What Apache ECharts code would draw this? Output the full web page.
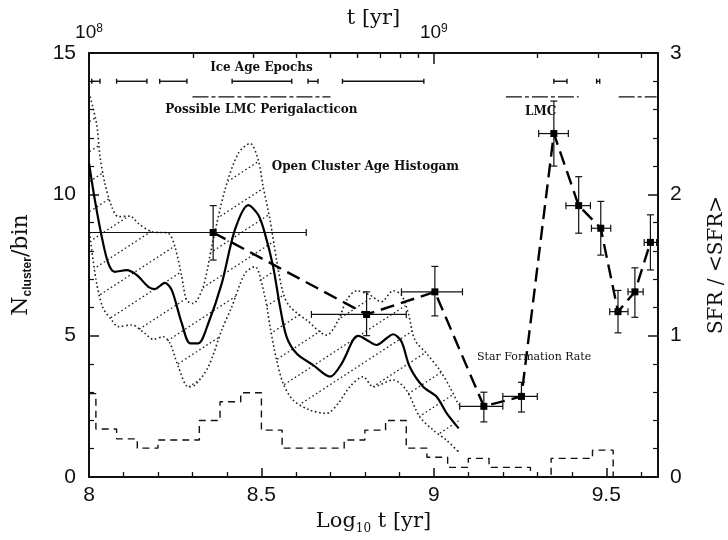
<!DOCTYPE html>
<html>
<head>
<meta charset="utf-8">
<script src="https://cdn.jsdelivr.net/npm/echarts@6/dist/echarts.min.js"></script>
<style>
  html, body { margin: 0; padding: 0; background: #fff; }
  #chart { width: 728px; height: 540px; }
</style>
</head>
<body>
<div id="chart"></div>
<script>
// ---- Open cluster age distribution (left axis, N_cluster / bin) ----
// smoothed histogram
const smoothX = [8.000, 8.017, 8.037, 8.056, 8.075, 8.109, 8.138, 8.172, 8.191, 8.220, 8.240, 8.269, 8.293, 8.317, 8.346, 8.385, 8.423, 8.462, 8.491, 8.510, 8.534, 8.554, 8.573, 8.602, 8.650, 8.699, 8.733, 8.766, 8.781, 8.805, 8.834, 8.863, 8.882, 8.906, 8.930, 8.969, 9.008, 9.037, 9.072];
const smoothY = [11.1, 9.8, 8.5, 7.56, 7.26, 7.32, 7.15, 6.73, 6.65, 6.87, 6.61, 5.44, 4.73, 4.73, 5.44, 6.85, 8.74, 9.62, 9.27, 8.62, 7.44, 6.02, 4.96, 4.37, 3.96, 3.55, 4.02, 4.85, 4.99, 4.85, 4.67, 4.91, 5.05, 4.79, 3.90, 3.19, 2.84, 2.26, 1.72];
// upper envelope
const upperX = [8.000, 8.022, 8.032, 8.046, 8.066, 8.085, 8.119, 8.143, 8.182, 8.230, 8.249, 8.269, 8.283, 8.302, 8.331, 8.356, 8.394, 8.433, 8.467, 8.491, 8.505, 8.525, 8.544, 8.563, 8.583, 8.631, 8.689, 8.723, 8.747, 8.776, 8.814, 8.848, 8.882, 8.906, 8.926, 8.945, 8.979, 9.017, 9.046, 9.072];
const upperY = [13.6, 12.5, 11.33, 10.39, 9.56, 9.21, 9.23, 8.97, 8.68, 8.62, 8.15, 7.09, 6.26, 6.14, 6.73, 8.15, 10.15, 11.45, 11.80, 11.21, 10.27, 9.09, 7.68, 6.50, 6.02, 5.55, 5.02, 5.55, 6.26, 6.59, 6.44, 6.20, 6.59, 6.44, 5.79, 4.85, 4.37, 3.78, 3.19, 2.55];
// lower envelope
const lowerX = [8.000, 8.020, 8.040, 8.066, 8.085, 8.124, 8.162, 8.186, 8.215, 8.235, 8.259, 8.288, 8.307, 8.346, 8.385, 8.414, 8.452, 8.481, 8.510, 8.525, 8.544, 8.563, 8.592, 8.640, 8.689, 8.723, 8.756, 8.795, 8.824, 8.882, 8.920, 8.959, 8.998, 9.036, 9.072];
const lowerY = [8.8, 7.0, 6.0, 5.55, 5.32, 5.38, 5.08, 4.87, 4.96, 4.73, 3.90, 3.19, 3.25, 3.90, 5.20, 6.02, 7.20, 7.44, 6.38, 5.32, 4.14, 3.31, 2.72, 2.37, 2.25, 2.61, 3.19, 3.55, 3.19, 3.43, 3.08, 2.13, 1.66, 1.31, 0.88];

// binned histogram (bin left edges, counts); last edge closes the final bin
const histEdges = [8.00, 8.02, 8.08, 8.14, 8.20, 8.32, 8.38, 8.44, 8.50, 8.56, 8.74, 8.80, 8.86, 8.92, 8.98, 9.04, 9.10, 9.16, 9.28, 9.34, 9.46, 9.52];
const histCounts = [2.95, 1.70, 1.35, 1.02, 1.31, 2.00, 2.66, 2.98, 1.66, 1.02, 1.31, 1.66, 2.00, 1.02, 0.70, 0.34, 0.66, 0.34, 0.00, 0.66, 0.95, 0.00];

// ---- Star formation rate (right axis, SFR / <SFR>) ----
const sfrX  = [8.360, 8.805, 9.003, 9.145, 9.254, 9.348, 9.420, 9.484, 9.534, 9.583, 9.628];
const sfrY  = [1.73, 1.15, 1.31, 0.50, 0.57, 2.43, 1.92, 1.76, 1.17, 1.31, 1.66];
const sfrXlo = [8.000, 8.645, 8.906, 9.075, 9.200, 9.304, 9.383, 9.457, 9.510, 9.563, 9.610];
const sfrXhi = [8.630, 8.920, 9.083, 9.200, 9.300, 9.390, 9.454, 9.513, 9.563, 9.607, 9.646];
const sfrYlo = [1.535, 1.00, 1.14, 0.39, 0.46, 2.20, 1.725, 1.57, 1.02, 1.13, 1.465];
const sfrYhi = [1.92, 1.31, 1.49, 0.60, 0.67, 2.66, 2.125, 1.95, 1.32, 1.48, 1.855];

// ---- Epoch bars along the top ----
const iceStart = [8.008, 8.080, 8.205, 8.415, 8.635, 8.735, 9.348, 9.472];
const iceEnd   = [8.032, 8.168, 8.284, 8.588, 8.664, 8.971, 9.386, 9.481];
const periStart = [8.300, 9.209, 9.536];
const periEnd   = [8.700, 9.420, 9.646];

// ---- Axis ticks ----
const xRange = [8, 9.65];
const xTickLabels = [8, 8.5, 9, 9.5];
const xMinorTicks = [8.1, 8.2, 8.3, 8.4, 8.6, 8.7, 8.8, 8.9, 9.1, 9.2, 9.3, 9.4, 9.6];
const ageMajorTicks = [8, 9];              // log10 of 1e8, 1e9 yr
const ageMinorTicks = [8.30103, 8.47712, 8.60206, 8.69897, 8.77815, 8.84510, 8.90309, 8.95424,
                       9.30103, 9.47712, 9.60206];
const leftRange = [0, 15];
const rightRange = [0, 3];

// levels (left-axis units) of the epoch bars and of the annotations
const ICE_LEVEL = 14.0;
const PERI_LEVEL = 13.45;
const annotations = [
  { text: 'Ice Age Epochs', x: 8.50, y: 14.47, align: 'center' },
  { text: 'Possible LMC Perigalacticon', x: 8.50, y: 12.98, align: 'center' },
  { text: 'LMC', x: 9.31, y: 12.91, align: 'center' },
  { text: 'Open Cluster Age Histogam', x: 8.53, y: 10.97, align: 'left' },
  { text: 'Star Formation Rate', x: 9.125, y: 4.24, align: 'left', plain: true }
];

const zip = (xs, ys) => xs.map((x, i) => [x, ys[i]]);

// dotted diagonal hatch tile used to fill the envelope band
function hatchTile() {
  const w = 46, h = 30;
  const c = document.createElement('canvas');
  c.width = w; c.height = h;
  const g = c.getContext('2d');
  g.strokeStyle = '#222';
  g.lineWidth = 1.3;
  g.setLineDash([1.6, 2.6]);
  g.beginPath();
  g.moveTo(-w * 0.05, h * 1.05);
  g.lineTo(w * 1.05, -h * 0.05);
  g.stroke();
  return c;
}
const hatch = { image: hatchTile(), repeat: 'repeat' };

const INK = '#111';
const tickFont = { fontFamily: 'Liberation Sans', fontSize: 21, color: INK };
const nameFont = { fontFamily: 'DejaVu Serif', fontSize: 21, color: INK };
const noteFontBold = 'bold 12px "DejaVu Serif"';
const noteFontPlain = '11px "DejaVu Serif"';

const chart = echarts.init(document.getElementById('chart'), null, { renderer: 'canvas' });

const axisLine = { show: true, lineStyle: { color: INK, width: 2 } };

chart.setOption({
  animation: false,
  backgroundColor: '#fff',
  grid: { left: 89, right: 70, top: 53, bottom: 63, containLabel: false, outerBoundsMode: 'none' },
  xAxis: [
    { // bottom: log10 age
      type: 'value', position: 'bottom', min: xRange[0], max: xRange[1], interval: 0.5,
      axisLine,
      axisTick: { inside: true, length: 9, customValues: xTickLabels, lineStyle: { color: INK, width: 1.5 } },
      axisLabel: Object.assign({ customValues: xTickLabels, margin: 8, formatter: v => String(v) }, tickFont),
      splitLine: { show: false },
      name: 'Log{sub|10} t [yr]', nameLocation: 'middle', nameGap: 32, nameMoveOverlap: false,
      nameTextStyle: Object.assign({}, nameFont, {
        lineHeight: 26,
        rich: { sub: { fontFamily: 'DejaVu Serif', fontSize: 12, lineHeight: 12, verticalAlign: 'bottom', color: INK } }
      })
    },
    { // bottom minor ticks
      type: 'value', position: 'bottom', min: xRange[0], max: xRange[1],
      axisLine: { show: false },
      axisTick: { inside: true, length: 5, customValues: xMinorTicks, lineStyle: { color: INK, width: 1.3 } },
      axisLabel: { show: false }, splitLine: { show: false }
    },
    { // top: age in yr, minor log ticks
      type: 'value', position: 'top', min: xRange[0], max: xRange[1],
      axisLine,
      axisTick: { inside: true, length: 5, customValues: ageMinorTicks, lineStyle: { color: INK, width: 1.3 } },
      axisLabel: { show: false }, splitLine: { show: false }
    },
    { // top: decade ticks and labels
      type: 'value', position: 'top', min: xRange[0], max: xRange[1],
      axisLine: { show: false },
      axisTick: { inside: true, length: 11, customValues: ageMajorTicks, lineStyle: { color: INK, width: 1.5 } },
      axisLabel: Object.assign({
        customValues: ageMajorTicks, margin: 10,
        formatter: v => '10{e|' + v + '}',
        rich: { e: { fontFamily: 'Liberation Sans', fontSize: 12, verticalAlign: 'top', lineHeight: 10, color: INK } }
      }, tickFont, { fontSize: 19, lineHeight: 20 }),
      splitLine: { show: false },
      name: 't [yr]', nameLocation: 'middle', nameGap: 24, nameMoveOverlap: false,
      nameTextStyle: Object.assign({}, nameFont, { fontSize: 21 })
    }
  ],
  yAxis: [
    {
      type: 'value', position: 'left', min: leftRange[0], max: leftRange[1], interval: 5,
      axisLine,
      axisTick: { inside: true, length: 10, lineStyle: { color: INK, width: 1.5 } },
      minorTick: { show: true, splitNumber: 5, length: 5, lineStyle: { color: INK, width: 1.2 } },
      axisLabel: Object.assign({ margin: 13 }, tickFont),
      splitLine: { show: false }, minorSplitLine: { show: false },
      name: 'N{sub|cluster}/bin', nameLocation: 'middle', nameGap: 55, nameRotate: 90, nameMoveOverlap: false,
      nameTextStyle: Object.assign({}, nameFont, {
        fontSize: 22, lineHeight: 26,
        rich: { sub: { fontFamily: 'Liberation Sans', fontWeight: 'bold', fontSize: 12, lineHeight: 12, verticalAlign: 'bottom', color: INK } }
      })
    },
    {
      type: 'value', position: 'right', min: rightRange[0], max: rightRange[1], interval: 1,
      axisLine,
      axisTick: { inside: true, length: 10, lineStyle: { color: INK, width: 1.5 } },
      minorTick: { show: true, splitNumber: 5, length: 5, lineStyle: { color: INK, width: 1.2 } },
      axisLabel: Object.assign({ margin: 12 }, tickFont),
      splitLine: { show: false }, minorSplitLine: { show: false },
      name: 'SFR / <SFR>', nameLocation: 'middle', nameGap: 49, nameRotate: 90, nameMoveOverlap: false,
      nameTextStyle: Object.assign({}, nameFont, { fontSize: 20 })
    }
  ],
  series: [
    { // hatched band between the envelopes
      type: 'custom', xAxisIndex: 0, yAxisIndex: 0, silent: true, z: 1,
      data: [[upperX[0], upperY[0]]],
      renderItem: (params, api) => {
        const pts = [];
        upperX.forEach((x, i) => pts.push(api.coord([x, upperY[i]])));
        for (let i = lowerX.length - 1; i >= 0; i--) pts.push(api.coord([lowerX[i], lowerY[i]]));
        return { type: 'polygon', shape: { points: pts }, style: { fill: hatch, stroke: null } };
      }
    },
    {
      type: 'line', xAxisIndex: 0, yAxisIndex: 0, data: zip(upperX, upperY), smooth: 0.3,
      symbol: 'none', silent: true, z: 2,
      lineStyle: { color: '#222', width: 1.6, type: [1.6, 2.6] }
    },
    {
      type: 'line', xAxisIndex: 0, yAxisIndex: 0, data: zip(lowerX, lowerY), smooth: 0.3,
      symbol: 'none', silent: true, z: 2,
      lineStyle: { color: '#222', width: 1.6, type: [1.6, 2.6] }
    },
    {
      type: 'line', xAxisIndex: 0, yAxisIndex: 0, data: zip(smoothX, smoothY), smooth: 0.3,
      symbol: 'none', silent: true, z: 3,
      lineStyle: { color: '#000', width: 2.2 }
    },
    { // binned histogram
      type: 'line', xAxisIndex: 0, yAxisIndex: 0, step: 'end',
      data: zip(histEdges, histCounts).concat([[xRange[1], 0]]),
      symbol: 'none', silent: true, z: 2,
      lineStyle: { color: '#111', width: 1.4, type: [7, 5] }
    },
    { // star formation rate
      type: 'line', xAxisIndex: 0, yAxisIndex: 1, data: zip(sfrX, sfrY),
      symbol: 'none', silent: true, z: 4,
      lineStyle: { color: '#000', width: 2.4, type: [14, 7] }
    },
    { // SFR error bars and markers
      type: 'custom', xAxisIndex: 0, yAxisIndex: 1, silent: true, z: 5,
      encode: { x: [0, 2, 3], y: [1, 4, 5] },
      data: sfrX.map((x, i) => [x, sfrY[i], sfrXlo[i], sfrXhi[i], sfrYlo[i], sfrYhi[i]]),
      renderItem: (params, api) => {
        const c = api.coord([api.value(0), api.value(1)]);
        const l = api.coord([api.value(2), api.value(1)]);
        const r = api.coord([api.value(3), api.value(1)]);
        const b = api.coord([api.value(0), api.value(4)]);
        const t = api.coord([api.value(0), api.value(5)]);
        const cap = 3.5;
        const st = { stroke: '#111', lineWidth: 1.2 };
        const seg = (x1, y1, x2, y2) => ({ type: 'line', shape: { x1, y1, x2, y2 }, style: st });
        return {
          type: 'group',
          children: [
            seg(l[0], l[1], r[0], r[1]),
            seg(l[0], l[1] - cap, l[0], l[1] + cap),
            seg(r[0], r[1] - cap, r[0], r[1] + cap),
            seg(b[0], b[1], t[0], t[1]),
            seg(b[0] - cap, b[1], b[0] + cap, b[1]),
            seg(t[0] - cap, t[1], t[0] + cap, t[1]),
            { type: 'rect', shape: { x: c[0] - 3.5, y: c[1] - 3.5, width: 7, height: 7 }, style: { fill: '#000' } }
          ]
        };
      }
    },
    { // ice age epochs
      type: 'custom', xAxisIndex: 0, yAxisIndex: 0, silent: true, z: 5,
      data: iceStart.map((s, i) => [s, iceEnd[i]]),
      renderItem: (params, api) => {
        const a = api.coord([api.value(0), ICE_LEVEL]);
        const b = api.coord([api.value(1), ICE_LEVEL]);
        const st = { stroke: '#111', lineWidth: 1.4 };
        return {
          type: 'group',
          children: [
            { type: 'line', shape: { x1: a[0], y1: a[1], x2: b[0], y2: b[1] }, style: st },
            { type: 'line', shape: { x1: a[0], y1: a[1] - 2.5, x2: a[0], y2: a[1] + 2.5 }, style: st },
            { type: 'line', shape: { x1: b[0], y1: b[1] - 2.5, x2: b[0], y2: b[1] + 2.5 }, style: st }
          ]
        };
      }
    },
    { // possible LMC perigalacticon passages
      type: 'custom', xAxisIndex: 0, yAxisIndex: 0, silent: true, z: 5,
      data: periStart.map((s, i) => [s, periEnd[i]]),
      renderItem: (params, api) => {
        const a = api.coord([api.value(0), PERI_LEVEL]);
        const b = api.coord([api.value(1), PERI_LEVEL]);
        return {
          type: 'line', shape: { x1: a[0], y1: a[1], x2: b[0], y2: b[1] },
          style: { stroke: '#111', lineWidth: 1.3, lineDash: [16, 3, 4, 3] }
        };
      }
    },
    { // annotations
      type: 'custom', xAxisIndex: 0, yAxisIndex: 0, silent: true, z: 6,
      data: annotations.map(a => [a.x, a.y]),
      renderItem: (params, api) => {
        const a = annotations[params.dataIndex];
        const p = api.coord([a.x, a.y]);
        return {
          type: 'text', x: p[0], y: p[1],
          style: {
            text: a.text, font: a.plain ? noteFontPlain : noteFontBold, fill: '#111',
            align: a.align, verticalAlign: 'middle'
          }
        };
      }
    }
  ]
});
</script>
</body>
</html>
